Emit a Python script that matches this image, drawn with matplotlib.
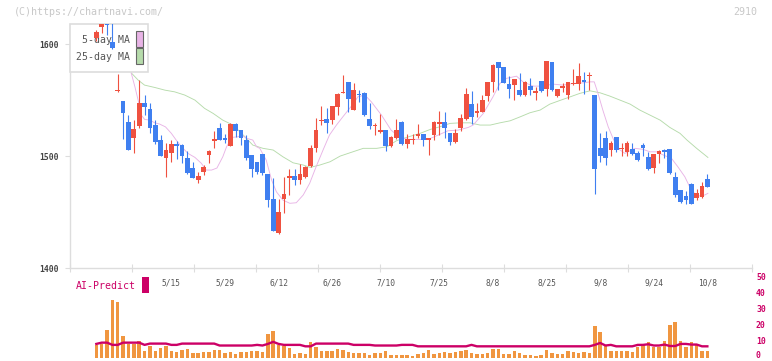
import matplotlib
matplotlib.use("Agg")
import matplotlib.pyplot as plt
import numpy as np
from matplotlib.patches import Rectangle

# daily candles, index 0 .. 114 (late April -> 10/8)
opens = [1605.6, 1614.9, 1622.0, 1601.8, 1558.0, 1549.4, 1530.4, 1515.8, 1526.8, 1547.3,
         1542.0, 1527.7, 1514.3, 1498.5, 1502.7, 1510.7, 1509.8, 1498.2, 1489.3, 1478.6,
         1485.7, 1500.9, 1513.4, 1525.3, 1516.0, 1509.0, 1528.6, 1523.2, 1514.3, 1500.9,
         1494.6, 1501.8, 1483.9, 1461.6, 1431.5, 1461.6, 1480.0, 1482.0, 1478.6, 1481.3,
         1491.1, 1507.1, 1531.2, 1533.0, 1532.1, 1543.8, 1556.3, 1566.0, 1541.0, 1555.4,
         1556.3, 1533.0, 1526.8, 1521.4, 1523.2, 1508.9, 1516.0, 1530.4, 1510.7, 1514.3,
         1517.9, 1519.6, 1514.3, 1518.8, 1528.6, 1530.4, 1520.5, 1512.5, 1525.0, 1533.0,
         1546.4, 1538.4, 1539.3, 1553.6, 1566.0, 1583.9, 1579.5, 1564.3, 1563.4, 1558.9,
         1554.5, 1562.5, 1556.3, 1567.0, 1559.8, 1583.9, 1553.6, 1560.7, 1554.5, 1564.3,
         1564.3, 1567.9, 1571.4, 1554.5, 1507.1, 1516.0, 1505.4, 1517.0, 1506.3, 1503.6,
         1506.3, 1502.7, 1509.8, 1499.0, 1489.3, 1501.8, 1505.4, 1506.3, 1481.3, 1469.6,
         1464.3, 1475.0, 1462.5, 1463.4, 1479.5]
highs = [1613.0, 1625.0, 1625.0, 1620.0, 1573.0, 1549.5, 1536.6, 1532.0, 1567.9, 1554.5,
         1547.0, 1532.0, 1518.8, 1511.6, 1514.3, 1513.4, 1510.7, 1504.5, 1494.6, 1485.7,
         1492.0, 1505.4, 1522.3, 1529.7, 1519.6, 1529.7, 1529.7, 1523.5, 1518.8, 1501.0,
         1494.6, 1501.8, 1484.0, 1480.4, 1461.6, 1481.3, 1488.4, 1488.4, 1492.9, 1491.0,
         1509.8, 1533.9, 1544.6, 1542.9, 1545.0, 1556.0, 1572.3, 1566.5, 1565.0, 1559.0,
         1557.0, 1547.3, 1529.5, 1537.5, 1523.5, 1517.5, 1533.0, 1531.0, 1519.6, 1519.6,
         1528.6, 1520.0, 1516.5, 1531.0, 1540.2, 1539.3, 1521.0, 1524.1, 1537.5, 1560.7,
         1558.0, 1547.3, 1554.5, 1566.5, 1582.0, 1584.0, 1580.0, 1571.4, 1569.0, 1574.1,
         1567.0, 1569.6, 1561.6, 1567.5, 1585.0, 1584.0, 1560.0, 1565.2, 1566.5, 1577.7,
         1583.0, 1575.0, 1575.0, 1555.0, 1520.5, 1522.3, 1513.4, 1517.0, 1511.6, 1513.4,
         1511.6, 1504.5, 1511.6, 1503.6, 1502.0, 1505.4, 1506.3, 1506.5, 1485.7, 1470.0,
         1468.8, 1475.9, 1470.5, 1476.8, 1484.0]
lows = [1603.0, 1609.8, 1608.0, 1596.0, 1557.5, 1514.9, 1505.0, 1503.0, 1524.7, 1536.6,
        1520.5, 1510.7, 1500.0, 1481.5, 1495.0, 1497.3, 1493.5, 1484.0, 1480.0, 1475.6,
        1483.0, 1493.5, 1507.1, 1514.0, 1511.9, 1509.0, 1516.7, 1509.8, 1496.4, 1481.5,
        1484.0, 1483.0, 1454.7, 1433.0, 1430.6, 1449.4, 1465.5, 1474.0, 1475.0, 1480.0,
        1490.5, 1503.6, 1527.7, 1520.5, 1528.6, 1536.6, 1556.0, 1539.3, 1541.0, 1548.2,
        1536.0, 1524.1, 1518.8, 1521.0, 1504.5, 1508.0, 1515.0, 1510.0, 1507.1, 1510.7,
        1516.0, 1509.0, 1500.9, 1514.3, 1518.8, 1516.0, 1509.8, 1512.0, 1522.3, 1532.0,
        1528.6, 1534.8, 1539.0, 1549.0, 1557.0, 1559.0, 1565.0, 1551.8, 1550.0, 1554.0,
        1553.6, 1554.5, 1550.0, 1557.5, 1553.6, 1558.5, 1553.0, 1557.0, 1550.9, 1563.4,
        1558.9, 1555.4, 1558.9, 1466.1, 1494.6, 1492.0, 1500.0, 1503.6, 1500.0, 1500.0,
        1501.0, 1496.0, 1500.0, 1488.0, 1484.8, 1493.5, 1498.2, 1484.0, 1463.4, 1458.5,
        1457.1, 1457.0, 1460.7, 1462.5, 1472.0]
closes = [1610.7, 1620.0, 1617.0, 1596.7, 1559.0, 1538.7, 1505.4, 1524.1, 1547.3, 1544.0,
          1525.0, 1512.5, 1500.3, 1505.4, 1510.7, 1509.2, 1500.3, 1484.8, 1480.4, 1482.1,
          1490.2, 1504.5, 1515.2, 1514.3, 1514.5, 1528.6, 1522.3, 1516.1, 1498.2, 1488.4,
          1485.7, 1484.8, 1460.7, 1433.3, 1450.0, 1466.1, 1482.0, 1478.6, 1483.9, 1490.4,
          1507.1, 1523.2, 1532.1, 1529.5, 1544.6, 1555.4, 1557.1, 1551.0, 1559.0, 1554.2,
          1536.6, 1526.8, 1527.7, 1523.2, 1508.9, 1517.0, 1523.2, 1510.7, 1515.2, 1515.2,
          1519.6, 1514.3, 1516.0, 1530.4, 1530.4, 1525.0, 1512.5, 1520.5, 1533.9, 1555.4,
          1534.8, 1540.2, 1550.0, 1566.0, 1581.3, 1578.6, 1565.2, 1559.8, 1568.8, 1554.5,
          1566.0, 1558.9, 1558.0, 1558.0, 1584.8, 1558.9, 1559.8, 1562.5, 1566.0, 1565.2,
          1571.4, 1566.0, 1572.3, 1488.4, 1500.0, 1498.2, 1511.6, 1505.4, 1507.1, 1511.6,
          1501.8, 1496.4, 1507.1, 1488.4, 1501.8, 1504.5, 1503.6, 1484.8, 1465.2, 1458.9,
          1460.7, 1457.1, 1467.0, 1473.2, 1472.3]

volume = [8.2, 8.5, 17.2, 36.0, 34.8, 13.8, 8.6, 8.6, 10.7, 4.6,
          7.5, 4.6, 6.3, 7.8, 4.6, 4.0, 5.0, 5.7, 3.4, 3.4,
          4.0, 4.0, 5.0, 5.0, 3.4, 4.0, 2.5, 3.6, 3.6, 4.6,
          4.6, 4.0, 15.3, 16.6, 8.2, 7.5, 6.3, 2.5, 3.4, 2.5,
          10.1, 6.7, 4.6, 4.6, 4.6, 5.7, 5.0, 4.0, 2.9, 2.9,
          2.9, 1.7, 2.9, 2.9, 4.6, 1.9, 1.9, 1.9, 1.9, 1.3,
          2.3, 2.9, 5.0, 2.3, 3.1, 3.8, 3.1, 4.0, 4.6, 5.0,
          3.1, 2.3, 2.3, 3.1, 5.5, 5.7, 2.3, 2.3, 4.4, 3.1,
          1.9, 1.9, 1.3, 1.9, 5.0, 3.1, 2.3, 2.3, 4.4, 3.8,
          3.1, 3.8, 3.1, 20.1, 16.4, 7.5, 4.4, 4.4, 4.4, 4.4,
          3.8, 6.7, 8.2, 10.1, 7.1, 6.7, 10.7, 20.7, 22.2, 10.7,
          6.9, 10.1, 8.8, 4.6, 4.6]

ai_predict = [8.8, 9.6, 9.6, 8.2, 8.2, 9.6, 9.6, 9.6, 9.6, 8.2,
              9.0, 9.0, 9.0, 9.0, 8.2, 8.2, 9.0, 9.0, 9.0, 9.0,
              9.0, 9.0, 9.0, 7.8, 7.8, 7.8, 7.8, 7.8, 7.8, 7.8,
              8.2, 7.8, 8.8, 10.1, 8.8, 8.2, 8.2, 8.2, 8.2, 7.3,
              7.3, 9.0, 9.0, 9.0, 9.0, 9.0, 9.0, 9.0, 8.2, 8.2,
              8.2, 8.2, 7.8, 7.8, 7.8, 7.8, 7.8, 8.2, 8.2, 8.2,
              7.3, 7.3, 7.3, 7.3, 7.3, 7.3, 7.3, 7.3, 7.3, 7.3,
              8.2, 7.3, 7.3, 7.3, 7.3, 7.3, 7.3, 7.3, 7.3, 7.3,
              7.3, 7.3, 7.3, 7.3, 7.3, 7.3, 7.3, 7.3, 7.3, 7.3,
              7.3, 7.3, 7.3, 8.2, 9.4, 7.8, 8.2, 7.3, 7.3, 7.3,
              7.3, 8.2, 8.2, 8.6, 7.8, 7.8, 8.4, 7.5, 7.5, 8.8,
              8.8, 8.4, 8.4, 7.3, 7.3]

# moving averages (bar position, price)
ma5_pos = [6.5, 7.2, 7.8, 8.4, 9.0, 10.0, 10.9, 11.8, 12.9, 14.0, 14.9, 15.9, 17.1, 18.4,
           19.6, 20.5, 21.5, 22.5, 23.6, 24.3, 25.3, 26.4, 27.1, 28.1, 29.2, 29.9, 30.5,
           31.7, 32.7, 33.6, 34.8, 36.1, 37.3, 38.6, 39.8, 41.0, 42.3, 43.5, 44.8, 46.0,
           48.0, 48.8, 50.1, 51.3, 53.2, 55.0, 56.6, 58.2, 60.0, 61.9, 63.8, 65.6, 67.5,
           69.4, 70.3, 72.2, 74.0, 75.3, 76.5, 78.4, 79.6, 81.5, 83.3, 85.2, 87.1, 88.9,
           90.8, 92.1, 92.9, 93.6, 94.5, 95.5, 96.4, 97.3, 98.6, 100.5, 102.0, 103.3,
           104.5, 105.8, 107.3, 108.5, 109.8, 110.7, 111.6, 112.6, 113.5, 114.1]
ma5 = [1574.4, 1561.9, 1550.0, 1536.6, 1532.8, 1532.1, 1529.7, 1528.6, 1526.1, 1520.3,
       1514.3, 1508.3, 1502.4, 1498.8, 1493.5, 1487.5, 1487.5, 1489.3, 1499.4, 1508.3,
       1516.7, 1517.2, 1518.8, 1515.8, 1514.3, 1508.3, 1506.9, 1496.4, 1478.6, 1468.1,
       1460.7, 1457.8, 1458.3, 1465.2, 1475.6, 1490.4, 1505.4, 1518.8, 1527.7, 1535.1,
       1547.1, 1553.0, 1554.5, 1548.5, 1536.6, 1523.2, 1516.7, 1514.9, 1514.9, 1514.9,
       1518.8, 1522.6, 1523.2, 1525.6, 1527.7, 1538.1, 1552.9, 1564.9, 1569.4, 1571.4,
       1566.3, 1562.5, 1562.5, 1564.3, 1563.4, 1564.9, 1565.4, 1566.3, 1566.3, 1556.0,
       1541.1, 1526.2, 1515.8, 1506.9, 1502.4, 1506.9, 1506.0, 1503.8, 1503.8, 1500.9,
       1498.0, 1490.4, 1481.5, 1472.6, 1466.7, 1464.3, 1465.2, 1466.7]
ma25_pos = [6.5, 7.8, 9.0, 10.9, 12.8, 14.6, 16.5, 18.4, 20.2, 21.8, 23.6, 25.5, 27.4,
            29.2, 31.1, 33.0, 34.8, 36.7, 38.6, 39.9, 41.7, 43.6, 45.5, 47.3, 49.8, 52.3,
            54.2, 56.0, 57.9, 60.4, 62.3, 64.1, 66.0, 67.9, 69.7, 71.6, 73.5, 75.3, 77.2,
            79.1, 80.9, 82.8, 84.6, 86.5, 88.4, 90.2, 92.1, 94.0, 95.8, 97.7, 99.6, 101.4,
            103.3, 105.2, 107.0, 108.9, 110.2, 112.0, 114.1]
ma25 = [1574.4, 1567.9, 1563.4, 1561.3, 1558.9, 1557.4, 1554.5, 1550.0, 1542.6, 1538.1,
        1532.1, 1527.7, 1518.8, 1509.8, 1506.9, 1505.4, 1499.4, 1494.0, 1492.0, 1489.9,
        1492.0, 1494.9, 1500.0, 1502.9, 1506.9, 1506.9, 1508.3, 1513.7, 1516.7, 1520.3,
        1523.8, 1526.2, 1529.2, 1529.7, 1529.7, 1527.7, 1527.7, 1529.7, 1531.5, 1535.1,
        1538.7, 1541.1, 1546.4, 1549.7, 1552.9, 1556.0, 1558.3, 1556.5, 1553.6, 1550.0,
        1546.4, 1541.1, 1536.6, 1532.1, 1525.6, 1520.3, 1514.3, 1506.9, 1498.8]

date_pos = [14, 24, 34, 44, 54, 64, 74, 84, 94, 104, 114]
date_labels = ["5/15", "5/29", "6/12", "6/26", "7/10", "7/25", "8/8", "8/25", "9/8",
               "9/24", "10/8"]
price_ticks = [1400, 1500, 1600]
vol_ticks = [0, 10, 20, 30, 40, 50]

UP = "#ef5140"
DOWN = "#3f7ff0"
PINK = "#e8b4e6"
GREEN = "#b6dbab"
MAGENTA = "#cc0066"
ORANGE = "#f09640"
GRID = "#dddddd"
MONO = "DejaVu Sans Mono"

W, H = 772, 361
X0, X1 = 70, 752          # plot area, pixels
TOP, BOT = 24, 268


def px_box(x0, y0, x1, y1):
    return [x0 / W, 1 - y1 / H, (x1 - x0) / W, (y1 - y0) / H]


def ax_frac(x, y):
    return (x - X0) / (X1 - X0), (BOT - y) / (BOT - TOP)


fig = plt.figure(figsize=(W / 100, H / 100), dpi=100)
ax = fig.add_axes(px_box(X0, TOP, X1, BOT))
axv = fig.add_axes(px_box(X0, 278, X1, 358))

idx = np.arange(len(closes))
o = np.array(opens)
c = np.array(closes)
colors = np.where(c >= o, UP, DOWN)
body_lo = np.minimum(o, c)
body_h = np.maximum(np.abs(c - o), 0.9)

xlim = (-4.91, 122.33)

ax.plot(ma25_pos, ma25, color=GREEN, lw=0.65, zorder=2)
ax.plot(ma5_pos, ma5, color=PINK, lw=0.65, zorder=2)
ax.vlines(idx, lows, highs, colors=colors, lw=0.8, zorder=4)
ax.bar(idx, body_h, bottom=body_lo, width=0.88, color=colors, linewidth=0, zorder=4)

ax.set_xlim(*xlim)
ax.set_ylim(1400, 1618)
ax.set_yticks(price_ticks)
ax.set_yticklabels([str(t) for t in price_ticks], family=MONO, fontsize=5.8,
                   color="#444444", fontweight="bold")
ax.tick_params(axis="y", length=3.6, width=0.8, color=GRID, pad=4.3)
ax.set_xticks(np.linspace(xlim[0], xlim[1], 12))
ax.set_xticklabels([])
ax.tick_params(axis="x", direction="inout", length=5.8, width=0.8, color=GRID)
for side in ("top", "right"):
    ax.spines[side].set_visible(False)
for side in ("left", "bottom"):
    ax.spines[side].set_color(GRID)
    ax.spines[side].set_linewidth(1.0)

# legend box (candles are drawn over it, MA lines under it)
bx0, by0 = ax_frac(70, 72)
bx1, by1 = ax_frac(148, 24)
ax.add_patch(Rectangle((bx0, by0), bx1 - bx0, by1 - by0, transform=ax.transAxes,
                       facecolor="white", edgecolor=GRID, lw=1.2, zorder=3,
                       clip_on=False))
for label, col, ty, sy in [("5-day MA", PINK, 40, 31), ("25-day MA", GREEN, 57, 48.3)]:
    tx, tyf = ax_frac(130, ty)
    ax.text(tx, tyf, label, transform=ax.transAxes, ha="right", va="center",
            family=MONO, fontsize=7.1, color="#555555", zorder=3.1)
    sx0, sy0 = ax_frac(136.3, sy + 15.5)
    sx1, sy1 = ax_frac(142.7, sy)
    ax.add_patch(Rectangle((sx0, sy0), sx1 - sx0, sy1 - sy0, transform=ax.transAxes,
                           facecolor=col, edgecolor="#666666", lw=0.8, zorder=3.1))

# date labels between the panels
for p, lab in zip(date_pos, date_labels):
    ax.text(p, -(282.5 - BOT) / (BOT - TOP), lab, transform=ax.get_xaxis_transform(),
            ha="center", va="center", family=MONO, fontsize=5.7, color="#555555")

# volume panel
axv.bar(idx, volume, width=0.64, color=ORANGE, linewidth=0, zorder=2)
axv.plot(idx, ai_predict, color=MAGENTA, lw=1.7, zorder=3)
axv.set_xlim(*xlim)
axv.set_ylim(0, 50)
axv.set_xticks([])
axv.set_yticks([])
for s in axv.spines.values():
    s.set_visible(False)
axv.patch.set_alpha(0)
lab_x = (756 - X0) / (X1 - X0)
for t in vol_ticks:
    if t == 0:
        axv.text(lab_x, -1.5, str(t), transform=axv.get_yaxis_transform(), ha="left",
                 va="bottom", family=MONO, fontsize=5.9, color=MAGENTA,
                 fontweight="bold", clip_on=False)
    else:
        axv.text(lab_x, t, str(t), transform=axv.get_yaxis_transform(), ha="left",
                 va="center", family=MONO, fontsize=5.9, color=MAGENTA,
                 fontweight="bold", clip_on=False)

fig.text(76 / W, 1 - 286 / H, "AI-Predict", ha="left", va="center", family=MONO,
         fontsize=7.1, color=MAGENTA)
fig.add_artist(Rectangle((142 / W, 1 - 293 / H), 6.5 / W, 16 / H,
                         transform=fig.transFigure, facecolor=MAGENTA, lw=0))

fig.text(14 / W, 1 - 12 / H, "(C)https://chartnavi.com/", ha="left", va="center",
         family=MONO, fontsize=7.2, color="#c8c8c8")
fig.text(757 / W, 1 - 12 / H, "2910", ha="right", va="center",
         family=MONO, fontsize=7.2, color="#c8c8c8")

fig.savefig("out.png", dpi=100)
